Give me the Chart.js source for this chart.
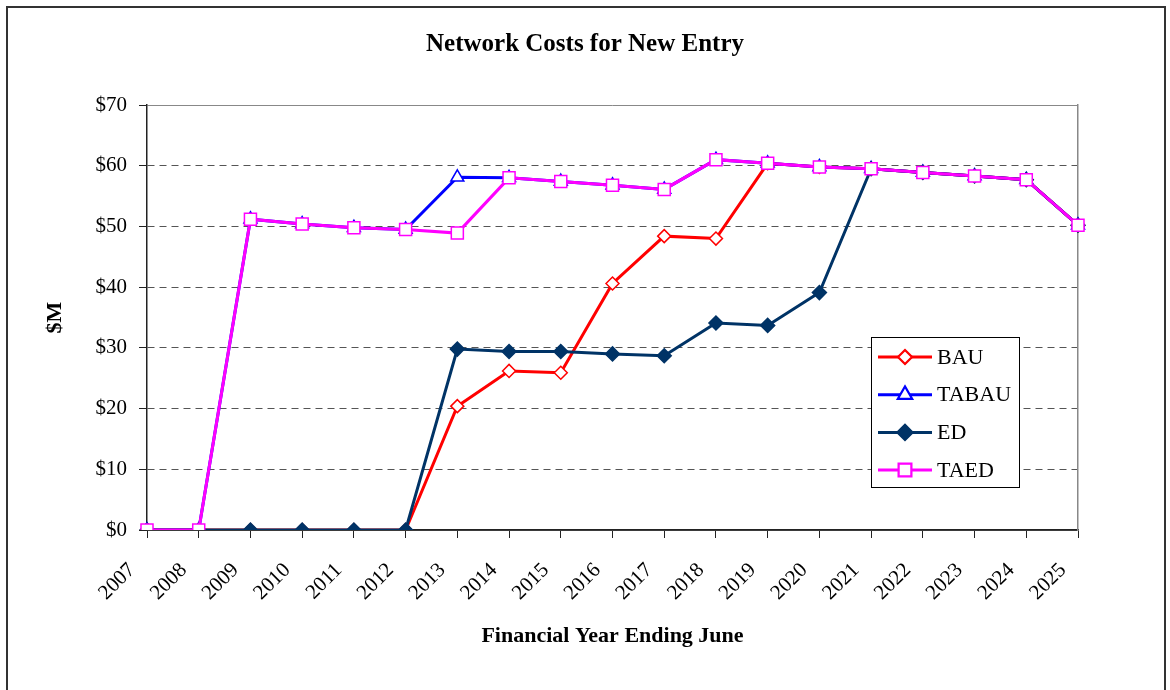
<!DOCTYPE html>
<html>
<head>
<meta charset="utf-8">
<title>Network Costs for New Entry</title>
<script src="https://cdn.jsdelivr.net/npm/chart.js@4.4.1/dist/chart.umd.min.js"></script>
<style>
  html, body { margin: 0; padding: 0; background: #fff; }
</style>
</head>
<body>
<canvas id="networkCostsChart" width="1170" height="690"></canvas>
<script>
// financial years (ending June)
var years = ['2007', '2008', '2009', '2010', '2011', '2012', '2013', '2014', '2015', '2016',
             '2017', '2018', '2019', '2020', '2021', '2022', '2023', '2024', '2025'];

// network costs, $M
var bau   = [0, 0, 0, 0, 0, 0, 20.4, 26.2, 25.9, 40.6, 48.4, 48.0, 60.4, 59.8, 59.5, 58.9, 58.3, 57.7, 50.2];
var tabau = [0, 0, 51.2, 50.4, 49.8, 49.5, 58.1, 58.0, 57.4, 56.8, 56.1, 61.0, 60.4, 59.8, 59.5, 58.9, 58.3, 57.7, 50.2];
var ed    = [0, 0, 0, 0, 0, 0, 29.8, 29.4, 29.4, 29.0, 28.7, 34.1, 33.7, 39.1, 59.5, 58.9, 58.3, 57.7, 50.2];
var taed  = [0, 0, 51.2, 50.4, 49.8, 49.5, 48.9, 58.0, 57.4, 56.8, 56.1, 61.0, 60.4, 59.8, 59.5, 58.9, 58.3, 57.7, 50.2];

var yTicks = [0, 10, 20, 30, 40, 50, 60, 70];

var serif = "'Liberation Serif', 'Times New Roman', serif";

// outer frame round the whole chart
var framePlugin = {
    id: 'frame',
    beforeDraw: function(chart) {
        var c = chart.ctx;
        c.save();
        c.fillStyle = '#fff';
        c.fillRect(0, 0, chart.width, chart.height);
        c.strokeStyle = '#333';
        c.lineWidth = 2;
        c.strokeRect(7, 7, 1158, 700);
        c.restore();
    }
};

// boxed legend sitting inside the plot area
var boxLegendPlugin = {
    id: 'boxLegend',
    afterDraw: function(chart) {
        var c = chart.ctx;
        var sets = chart.data.datasets;
        var left = 871, top = 337, w = 148, h = 150;
        c.save();
        c.fillStyle = '#fff';
        c.fillRect(left, top, w, h);
        c.strokeStyle = '#000';
        c.lineWidth = 1;
        c.strokeRect(left + 0.5, top + 0.5, w, h);
        c.font = '22px ' + serif;
        c.textBaseline = 'middle';
        c.textAlign = 'left';
        for (var i = 0; i < sets.length; i++) {
            var ds = sets[i];
            var y = top + 20 + i * 37.7;
            c.strokeStyle = ds.borderColor;
            c.lineWidth = 3;
            c.beginPath();
            c.moveTo(left + 7, y);
            c.lineTo(left + 61, y);
            c.stroke();
            Chart.helpers.drawPoint(c, {
                pointStyle: ds.pointStyle,
                radius: ds.pointRadius,
                borderWidth: ds.pointBorderWidth,
                rotation: 0
            }, left + 34, y);
            c.fillStyle = ds.pointBackgroundColor;
            c.strokeStyle = ds.pointBorderColor;
            c.lineWidth = ds.pointBorderWidth;
            c.fill();
            c.stroke();
            c.fillStyle = '#000';
            c.fillText(ds.label, left + 66, y + 1);
        }
        c.restore();
    }
};

function series(label, data, color, style, radius, fill, order) {
    return {
        label: label,
        data: data,
        borderColor: color,
        borderWidth: 3,
        pointStyle: style,
        pointRadius: radius,
        pointHoverRadius: radius,
        pointBorderWidth: 1.5,
        pointBorderColor: color,
        pointBackgroundColor: fill,
        tension: 0,
        order: order
    };
}

var ctx = document.getElementById('networkCostsChart');
var costChart = new Chart(ctx, {
    type: 'line',
    data: {
        labels: years,
        datasets: [
            series('BAU', bau, '#ff0000', 'rectRot', 6.5, '#ffffff', 3),
            series('TABAU', tabau, '#0000ff', 'triangle', 7.5, '#ffffff', 2),
            series('ED', ed, '#003366', 'rectRot', 7, '#003366', 1),
            series('TAED', taed, '#ff00ff', 'rect', 8.5, '#ffffff', 0)
        ]
    },
    options: {
        responsive: false,
        animation: false,
        layout: { padding: 0 },
        plugins: {
            legend: { display: false },
            tooltip: { enabled: false },
            title: {
                display: true,
                text: 'Network Costs for New Entry',
                color: '#000',
                font: { family: serif, size: 25, weight: 'bold' },
                padding: { top: 30, bottom: 45 }
            }
        },
        scales: {
            x: {
                offset: false,
                grid: { drawOnChartArea: false, drawTicks: true, tickLength: 8, color: '#222', tickColor: '#222' },
                border: { display: true, color: '#222', width: 1.5 },
                ticks: {
                    autoSkip: false,
                    minRotation: 45,
                    maxRotation: 45,
                    padding: 20,
                    labelOffset: -15,
                    color: '#000',
                    font: { family: serif, size: 21 }
                },
                title: {
                    display: true,
                    text: 'Financial Year Ending June',
                    color: '#000',
                    font: { family: serif, size: 22, weight: 'bold' },
                    padding: { top: 0, bottom: 40.8 }
                },
                afterFit: function(scale) { scale.height = 160; }
            },
            y: {
                min: 0,
                max: 70,
                afterBuildTicks: function(scale) {
                    scale.ticks = yTicks.map(function(v) { return { value: v }; });
                },
                grid: {
                    tickLength: 8,
                    color: function(c) { return c.tick && c.tick.value === 70 ? '#888' : '#555'; },
                    tickColor: '#222'
                },
                border: {
                    display: true,
                    color: '#222',
                    width: 1.5,
                    dash: function(c) { return c.tick && c.tick.value > 0 && c.tick.value < 70 ? [7, 5] : []; }
                },
                ticks: {
                    padding: 12,
                    color: '#000',
                    font: { family: serif, size: 21 },
                    callback: function(v) { return '$' + v; }
                },
                title: {
                    display: true,
                    text: '$M',
                    color: '#000',
                    font: { family: serif, size: 22, weight: 'bold' },
                    padding: { top: 41.8, bottom: 0 }
                },
                afterFit: function(scale) { scale.width = 147; }
            },
            yRight: {
                position: 'right',
                display: true,
                grid: { display: false },
                ticks: { display: false },
                border: { display: true, color: '#888', width: 1.5 },
                afterFit: function(scale) { scale.width = 1170 - 1078; }
            }
        }
    },
    plugins: [framePlugin, boxLegendPlugin]
});
</script>
</body>
</html>
